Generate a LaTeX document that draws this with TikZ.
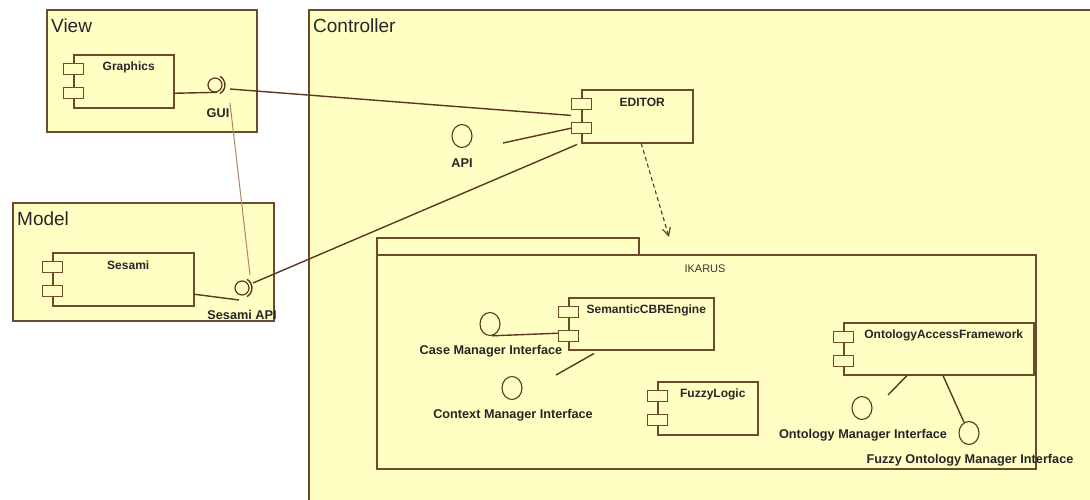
\documentclass[tikz,border=0pt]{standalone}
\usepackage{fontspec}
\setmainfont{Liberation Sans}
\usetikzlibrary{arrows.meta,shapes.geometric}
\definecolor{fillY}{HTML}{FFFFC4}
\definecolor{lineB}{HTML}{6E4A2C}
\definecolor{wireB}{HTML}{5A3820}
\definecolor{thinB}{HTML}{B08462}
\tikzset{
  container/.style={draw=lineB, fill=fillY, line width=1.6pt, inner sep=0pt, anchor=north west},
  comp/.style={draw=lineB, fill=fillY, line width=1.5pt, inner sep=0pt, anchor=north west},
  port/.style={draw=lineB, fill=fillY, line width=1.4pt, inner sep=0pt, anchor=north west, minimum width=20pt, minimum height=11pt},
  complabel/.style={font=\fontsize{12}{14}\selectfont\bfseries, text=black!85, inner sep=0pt},
  iflabel/.style={font=\fontsize{12.7}{14}\selectfont\bfseries, text=black!85, inner sep=0pt},
  title/.style={font=\fontsize{19}{22}\selectfont, text=black!85, inner sep=0pt, anchor=base west},
  ball/.style={draw=wireB, ellipse, line width=1.1pt, inner sep=0pt, minimum width=20pt, minimum height=23pt},
  smallball/.style={draw=wireB, circle, line width=1.2pt, inner sep=0pt, minimum size=14pt},
  wire/.style={draw=wireB, line width=1.4pt},
  thinwire/.style={draw=thinB, line width=1pt},
}
\newcommand\umlcomp[6]{%
  \node[comp, minimum width=#4pt, minimum height=#5pt] (#1) at (#2,#3) {};
  \node[complabel] (#1-l) at ([xshift=5pt,yshift=-13pt]#1.north) {#6};
  \node[port] (#1-p1) at ([xshift=-10pt,yshift=-9pt]#1.north west) {};
  \node[port] (#1-p2) at ([xshift=-10pt,yshift=-33pt]#1.north west) {};
}
\begin{document}
\begin{tikzpicture}[x=1pt,y=-1pt]
\useasboundingbox (0,0) rectangle (1090,499);
\fill[white] (0,0) rectangle (1090,499);
\clip (0,0) rectangle (1090,499);

% containers
\node[container, minimum width=210pt, minimum height=122pt] (view) at (46,9) {};
\node[title] (viewT) at (51,32) {View};
\node[container, minimum width=261pt, minimum height=118pt] (model) at (12,202) {};
\node[title] (modelT) at (17,225) {Model};
\node[container, minimum width=800pt, minimum height=500pt] (ctrl) at (308,9) {};
\node[title] (ctrlT) at (313,32) {Controller};

% IKARUS package
\node[comp, minimum width=262pt, minimum height=17pt] (iktab) at (376,237) {};
\node[comp, minimum width=659pt, minimum height=214pt] (ikarus) at (376,254) {};
\node[font=\fontsize{11}{13}\selectfont, text=black!80, inner sep=0pt] (ikT) at (705,269) {IKARUS};

% components
\umlcomp{graphics}{73}{54}{100}{53}{Graphics}
\umlcomp{sesami}{52}{252}{141}{53}{Sesami}
\umlcomp{editor}{581}{89}{111}{53}{EDITOR}
\umlcomp{scbr}{568}{297}{145}{52}{SemanticCBREngine}
\umlcomp{fuzzy}{657}{381}{100}{53}{FuzzyLogic}
\umlcomp{oaf}{843}{322}{190}{52}{OntologyAccessFramework}

% provided/required interfaces with sockets
\node[smallball] (gui) at (215,85) {};
\draw[wire] ([shift={(-60:10pt)}]gui.center) arc[start angle=-60, end angle=60, radius=10pt];
\node[iflabel] (guiT) at (218,113) {GUI};
\node[smallball] (sapi) at (242,288) {};
\draw[wire] ([shift={(-60:10pt)}]sapi.center) arc[start angle=-60, end angle=60, radius=10pt];
\node[iflabel] (sapiT) at (242,315) {Sesami API};

% plain interfaces
\node[ball] (api) at (462,136) {};
\node[iflabel] (apiT) at (462,163) {API};
\node[ball] (cmi) at (490,324) {};
\node[iflabel] (cmiT) at (491,351) {Case Manager Interface};
\node[ball] (ctxi) at (512,388) {};
\node[iflabel] (ctxiT) at (513,415) {Context Manager Interface};
\node[ball] (omi) at (862,408) {};
\node[iflabel] (omiT) at (863,435) {Ontology Manager Interface};
\node[ball] (fomi) at (969,433) {};
\node[iflabel] (fomiT) at (970,460) {Fuzzy Ontology Manager Interface};

% free ends
\coordinate (apiEnd) at (503,143);
\coordinate (ctxEnd) at (556,375);
\coordinate (omiEnd) at (888,395);
\coordinate (ikTip) at (669,237);

% connectors
\draw[wire] ([yshift=-12pt]graphics.east) -- (gui.-75);
\draw[wire] ([shift={(15,4)}]gui.center) -- ([yshift=-5pt]editor-p1.south west);
\draw[thinwire] ([shift={(15,18)}]gui.center) -- ([shift={(8,-13)}]sapi.center);
\draw[wire] ([yshift=-15pt]sesami.east) -- ([shift={(-3,12)}]sapi.center);
\draw[wire] ([shift={(11,-5)}]sapi.center) -- ([xshift=-4pt,yshift=-1pt]editor.south west);
\draw[wire] (apiEnd) -- (editor-p2.west);
\draw[wire, line width=1.1pt, dashed, dash pattern=on 4pt off 3pt, -{Straight Barb[length=8pt,width=8pt]}] ([xshift=4pt]editor.south) -- (ikTip);
\draw[wire] (cmi.-80) -- ([yshift=3pt]scbr-p2.west);
\draw[wire] (ctxEnd) -- ([xshift=26pt,yshift=-3pt]scbr.south west);
\draw[wire] (omiEnd) -- ([xshift=64pt]oaf.south west);
\draw[wire] ([xshift=100pt]oaf.south west) -- (fomi.115);
\end{tikzpicture}
\end{document}
